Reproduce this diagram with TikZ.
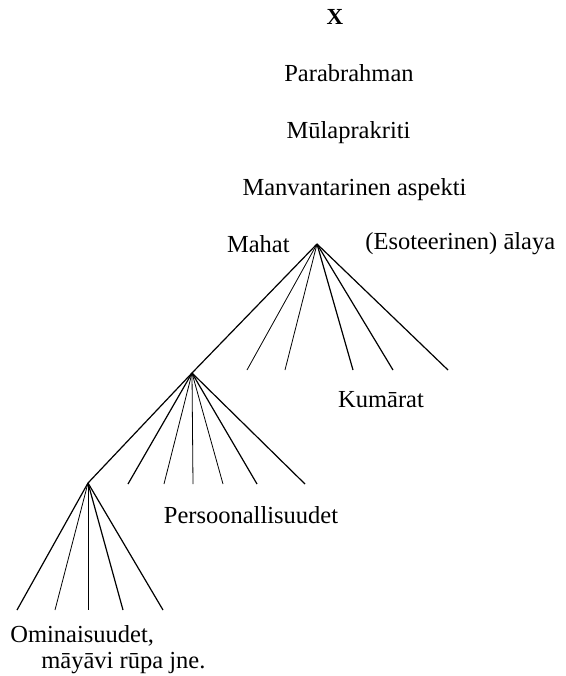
\documentclass[tikz,border=0pt]{standalone}
\usepackage{fontspec}
\setmainfont{Liberation Serif}
\usetikzlibrary{positioning}
\tikzset{
    term/.style={inner sep=0pt,font=\fontsize{12.25}{14}\selectfont},
    head/.style={inner sep=0pt,font=\fontsize{11.5}{14}\selectfont\bfseries},
    branch/.style={line width=0.6pt},
    faint/.style={line width=0.4pt}
}

\begin{document}
\begin{tikzpicture}[x=0.5pt,y=-0.5pt]
    \useasboundingbox (0,0) rectangle (566,676);

    % the chain above the tree
    \node[head] (x)     at (335,24)    [anchor=base] {X};
    \node[term] (para)  at (349,81)    [anchor=base] {Parabrahman};
    \node[term] (mula)  at (348.5,138) [anchor=base] {Mūlaprakriti};
    \node[term] (manv)  at (354.5,195) [anchor=base] {Manvantarinen aspekti};

    % branch points
    \coordinate (mahat fan)  at (317,244);
    \coordinate (kumara fan) at (192,373);
    \coordinate (person fan) at (88,483);

    \node[term] (mahat) [left=13.5pt of mahat fan] {Mahat};
    \node[term] (alaya) [right=24pt of mahat fan]  {(Esoteerinen) ālaya};

    \draw[branch] (mahat fan) -- (kumara fan);
    \foreach \ex/\wt [count=\i] in {247/faint,285/faint,353/branch,393/branch,448/branch} {
        \coordinate (mahat end \i) at (\ex,370);
        \draw[\wt] (mahat fan) -- (mahat end \i);
    }
    \node[term] (kumarat) at (381,407) [anchor=base] {Kumārat};

    \draw[branch] (kumara fan) -- (person fan);
    \foreach \ex/\wt [count=\i] in {128/branch,164/faint,193/faint,223/faint,257/branch,305/branch} {
        \coordinate (kumara end \i) at (\ex,484);
        \draw[\wt] (kumara fan) -- (kumara end \i);
    }
    \node[term] (persons) at (251,523) [anchor=base] {Persoonallisuudet};

    \foreach \ex/\wt [count=\i] in {17/branch,55/faint,88/faint,123/branch,163/branch} {
        \coordinate (person end \i) at (\ex,610);
        \draw[\wt] (person fan) -- (person end \i);
    }
    \node[term] (qual 1) at (10,642) [anchor=base west] {Ominaisuudet,};
    \node[term] (qual 2) at (41,668) [anchor=base west] {māyāvi rūpa jne.};

\end{tikzpicture}
\end{document}
